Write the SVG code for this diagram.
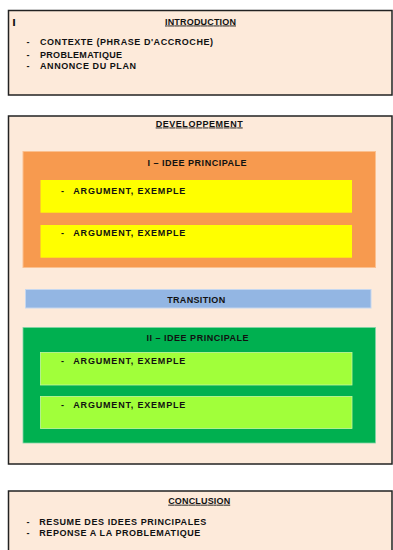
<svg xmlns="http://www.w3.org/2000/svg" width="393" height="550" viewBox="0 0 393 550">
  <style>
    text { font-family: "Liberation Sans", Arial, sans-serif; font-weight: bold; font-size: 9px; fill: #111; }
    .mid { text-anchor: middle; }
    .head { text-decoration: underline; }
    .frame { fill: #FDEADA; stroke: #222; stroke-width: 1.5; }
    .orange { fill: #F79A4F; stroke: #FBC08F; stroke-width: 1; }
    .yellow { fill: #FFFF00; }
    .blue { fill: #93B6E3; stroke: #C5D7EF; stroke-width: 1; }
    .green { fill: #00B050; stroke: #7FD6A6; stroke-width: 0.8; }
    .lime { fill: #A1FF3A; stroke: #C7F7A0; stroke-width: 0.8; }
  </style>

  <!-- Introduction -->
  <g id="introduction">
    <rect class="frame" x="8.5" y="10.5" width="383.5" height="84.5"/>
    <text x="12.2" y="26" style="font-size:9.5px;font-family:'DejaVu Sans',sans-serif">I</text>
    <text class="mid head" x="200.5" y="24.5" textLength="71" lengthAdjust="spacing">INTRODUCTION</text>
    <text x="26.5" y="45">-</text>
    <text x="40" y="45" textLength="173" lengthAdjust="spacing">CONTEXTE (PHRASE D'ACCROCHE)</text>
    <text x="26.5" y="57.5">-</text>
    <text x="40" y="57.5" textLength="82" lengthAdjust="spacing">PROBLEMATIQUE</text>
    <text x="26.5" y="69">-</text>
    <text x="40" y="69" textLength="96" lengthAdjust="spacing">ANNONCE DU PLAN</text>
  </g>

  <!-- Développement -->
  <g id="developpement">
    <rect class="frame" x="8.5" y="116" width="383.5" height="348"/>
    <text class="mid head" x="199.2" y="126.5" textLength="87" lengthAdjust="spacing">DEVELOPPEMENT</text>
  </g>

  <g id="idee-1">
    <rect class="orange" x="23" y="151.5" width="352.5" height="116"/>
    <text class="mid" x="197" y="166" textLength="99" lengthAdjust="spacing">I – IDEE PRINCIPALE</text>
  </g>
  <g id="argument-1a">
    <rect class="yellow" x="40.5" y="180" width="311.5" height="32.7"/>
    <text x="61" y="194">-</text>
    <text x="73.3" y="194" textLength="112" lengthAdjust="spacing">ARGUMENT, EXEMPLE</text>
  </g>
  <g id="argument-1b">
    <rect class="yellow" x="40.5" y="225" width="311.5" height="32.7"/>
    <text x="61" y="236">-</text>
    <text x="73.3" y="236" textLength="112" lengthAdjust="spacing">ARGUMENT, EXEMPLE</text>
  </g>

  <g id="transition">
    <rect class="blue" x="25.5" y="289.5" width="345.5" height="18.5"/>
    <text class="mid" x="196.2" y="302.7" textLength="58" lengthAdjust="spacing">TRANSITION</text>
  </g>

  <g id="idee-2">
    <rect class="green" x="23" y="327.5" width="352.5" height="115.5"/>
    <text class="mid" x="197.5" y="341" textLength="102" lengthAdjust="spacing">II – IDEE PRINCIPALE</text>
  </g>
  <g id="argument-2a">
    <rect class="lime" x="40.5" y="352.5" width="311.5" height="32.5"/>
    <text x="61" y="364">-</text>
    <text x="73.3" y="364" textLength="112" lengthAdjust="spacing">ARGUMENT, EXEMPLE</text>
  </g>
  <g id="argument-2b">
    <rect class="lime" x="40.5" y="396.5" width="311.5" height="32"/>
    <text x="61" y="408">-</text>
    <text x="73.3" y="408" textLength="112" lengthAdjust="spacing">ARGUMENT, EXEMPLE</text>
  </g>

  <!-- Conclusion -->
  <g id="conclusion">
    <rect class="frame" x="8.5" y="491" width="383.5" height="70"/>
    <text class="mid head" x="199.2" y="503.7" textLength="62" lengthAdjust="spacing">CONCLUSION</text>
    <text x="26.5" y="525">-</text>
    <text x="39.3" y="525" textLength="167" lengthAdjust="spacing">RESUME DES IDEES PRINCIPALES</text>
    <text x="26.5" y="535.7">-</text>
    <text x="39.3" y="535.7" textLength="161" lengthAdjust="spacing">REPONSE A LA PROBLEMATIQUE</text>
  </g>

  <!-- no connectors in this layout -->
  <g id="connectors"/>
</svg>
